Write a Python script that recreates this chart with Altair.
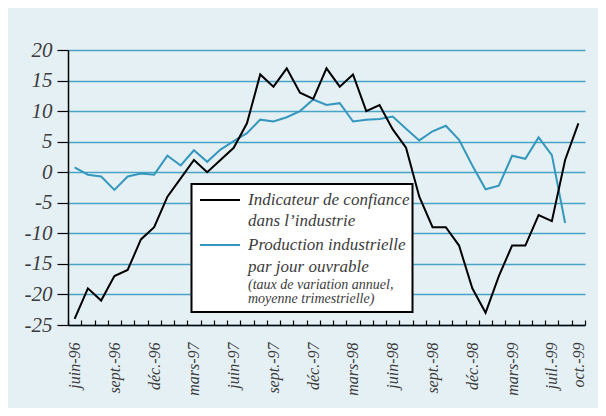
import altair as alt
import pandas as pd

# ---- data -------------------------------------------------------------
months = [
    "juin-96", "juil.-96", "août-96", "sept.-96", "oct.-96", "nov.-96",
    "déc.-96", "janv.-97", "févr.-97", "mars-97", "avr.-97", "mai-97",
    "juin-97", "juil.-97", "août-97", "sept.-97", "oct.-97", "nov.-97",
    "déc.-97", "janv.-98", "févr.-98", "mars-98", "avr.-98", "mai-98",
    "juin-98", "juil.-98", "août-98", "sept.-98", "oct.-98", "nov.-98",
    "déc.-98", "janv.-99", "févr.-99", "mars-99", "avr.-99", "mai-99",
    "juin-99", "juil.-99", "août-99",
]
confiance = [
    -24, -19, -21, -17, -16, -11, -9, -4, -1, 2, 0, 2, 4, 8, 16, 14, 17, 13,
    12, 17, 14, 16, 10, 11, 7, 4, -4, -9, -9, -12, -19, -23, -17, -12, -12,
    -7, -8, 2, 8,
]
production = [
    0.8, -0.4, -0.7, -2.9, -0.7, -0.2, -0.4, 2.7, 1.1, 3.6, 1.7, 3.7, 5.1,
    6.4, 8.6, 8.3, 9.0, 10.0, 11.9, 11.0, 11.3, 8.3, 8.6, 8.7, 9.1, 7.1, 5.2,
    6.7, 7.6, 5.3, 1.1, -2.8, -2.2, 2.7, 2.2, 5.7, 2.8, -8.3,
]
# axis labels: month index -> label
tick_index = [0, 3, 6, 9, 12, 15, 18, 21, 24, 27, 30, 33, 36, 38]
tick_labels = [
    "juin-96", "sept.-96", "déc.-96", "mars-97", "juin-97", "sept.-97",
    "déc.-97", "mars-98", "juin-98", "sept.-98", "déc.-98", "mars-99",
    "juil.-99", "oct.-99",
]
y_ticks = [-25, -20, -15, -10, -5, 0, 5, 10, 15, 20]
legend_lines = [
    "Indicateur de confiance",
    "dans l\u2019industrie",
    "Production industrielle",
    "par jour ouvrable",
    "(taux de variation annuel,",
    "moyenne trimestrielle)",
]

# ---- tables -----------------------------------------------------------
n = len(months)
df_conf = pd.DataFrame({"i": list(range(n)), "mois": months, "v": confiance})
df_prod = pd.DataFrame({"i": list(range(len(production))),
                        "mois": months[:len(production)], "v": production})

label_arr = [""] * (n + 1)
for k, lab in zip(tick_index, tick_labels):
    label_arr[k] = lab
label_js = "[" + ",".join("'" + s + "'" for s in label_arr) + "]"

FONT = "Liberation Serif"
BLUE = "#3497bd"
GRID = "#4aa2c4"
TXT = "#3c3c3c"

xscale = alt.Scale(domain=[-0.5, n - 0.5], nice=False, zero=False)
yscale = alt.Scale(domain=[-25, 20], nice=False, zero=False)

xaxis = alt.Axis(
    values=[k - 0.5 for k in range(n + 1)], tickCount=200,
    labelExpr=label_js + "[datum.value + 0.5]",
    labelAngle=-90, labelOffset=6.6, labelPadding=22,
    labelOverlap=False, labelFlush=False, labelBound=False,
    labelFont=FONT, labelFontStyle="italic", labelFontSize=16, labelColor=TXT,
    tickSize={"expr": "-5"}, tickColor="black", tickWidth=1.2,
    domainColor="black", domainWidth=1.5, grid=False, title=None,
)
yaxis = alt.Axis(
    values=y_ticks, tickCount=100, labelOverlap=False,
    labelExpr="datum.value < 0 ? '-' + abs(datum.value) : '' + datum.value",
    labelFont=FONT, labelFontStyle="italic", labelFontSize=21, labelColor=TXT,
    labelPadding=5, tickSize=11, tickColor="black", tickWidth=1.2,
    domainColor="black", domainWidth=1.5,
    grid=True, gridColor=GRID, gridWidth=1.5, title=None,
)

black = alt.Chart(df_conf).mark_line(color="black", strokeWidth=2).encode(
    x=alt.X("i:Q", scale=xscale, axis=xaxis),
    y=alt.Y("v:Q", scale=yscale, axis=yaxis),
)
blue = alt.Chart(df_prod).mark_line(color=BLUE, strokeWidth=2).encode(
    x=alt.X("i:Q", scale=xscale),
    y=alt.Y("v:Q", scale=yscale),
)

one = pd.DataFrame({"o": [0]})
box = alt.Chart(one).mark_rect(fill="white", stroke="black", strokeWidth=2).encode(
    x=alt.value(123.5), x2=alt.value(344.5), y=alt.value(134), y2=alt.value(262)
)
sym_black = alt.Chart(one).mark_rule(color="black", strokeWidth=2).encode(
    x=alt.value(132), x2=alt.value(172), y=alt.value(150)
)
sym_blue = alt.Chart(one).mark_rule(color=BLUE, strokeWidth=2).encode(
    x=alt.value(132), x2=alt.value(172), y=alt.value(195)
)

line_y = [150, 171, 195, 217, 235, 249]
line_size = [17, 17, 17, 17, 14, 14]
texts = []
for txt, yy, fs in zip(legend_lines, line_y, line_size):
    texts.append(
        alt.Chart(one).mark_text(
            align="left", baseline="middle", font=FONT, fontStyle="italic",
            fontSize=fs, color=TXT,
        ).encode(x=alt.value(180), y=alt.value(yy), text=alt.value(txt))
    )

chart = alt.layer(blue, black, box, sym_black, sym_blue, *texts).properties(
    width=517, height=275,
    padding={"left": 60, "top": 42, "right": 13, "bottom": 83},
    autosize=alt.AutoSizeParams(type="none"),
    background="#e5f0f5",
).configure_view(stroke=None)

chart.save("out.html", embed_options={"renderer": "svg", "actions": False})
